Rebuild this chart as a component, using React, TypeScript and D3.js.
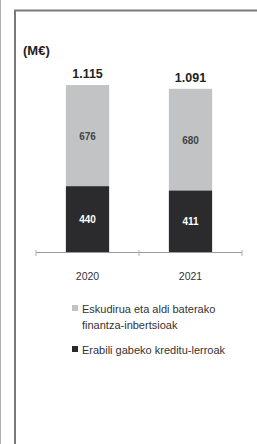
import React, { useRef, useEffect } from 'react';
import * as d3 from 'd3';

const years = ['2020', '2021'];
const cash = [676, 680];
const creditLines = [440, 411];
const totals = ['1.115', '1.091'];
const legendItems = [
  { lines: ['Eskudirua eta aldi baterako', 'finantza-inbertsioak'], color: '#c1c3c5' },
  { lines: ['Erabili gabeko kreditu-lerroak'], color: '#2b2b2d' },
];

const App = () => {
  const ref = useRef<SVGSVGElement>(null);

  useEffect(() => {
    const svg = d3.select(ref.current);
    svg.selectAll('*').remove();
    const font = 'Liberation Sans, Arial, sans-serif';

    // frame
    svg.append('line').attr('x1', 0.5).attr('x2', 0.5).attr('y1', 0).attr('y2', 444)
      .attr('stroke', '#b0b0b0').attr('stroke-width', 1);
    svg.append('line').attr('x1', 15).attr('x2', 15).attr('y1', 10).attr('y2', 444)
      .attr('stroke', '#7a7a7a').attr('stroke-width', 2);
    svg.append('line').attr('x1', 14).attr('x2', 257).attr('y1', 10.5).attr('y2', 10.5)
      .attr('stroke', '#7a7a7a').attr('stroke-width', 2);

    const x = d3.scaleBand().domain(years).range([36, 242]).paddingInner(0.58).paddingOuter(0.29);
    const y = d3.scaleLinear().domain([0, 1200]).range([252, 72.5]);

    const g = svg.append('g');
    years.forEach((yr, i) => {
      const x0 = x(yr)!;
      const bw = x.bandwidth();
      const dTop = y(creditLines[i]);
      const tTop = y(creditLines[i] + cash[i]);
      g.append('rect').attr('x', x0).attr('width', bw).attr('y', tTop).attr('height', dTop - tTop)
        .attr('fill', '#c1c3c5');
      g.append('rect').attr('x', x0).attr('width', bw).attr('y', dTop).attr('height', y(0) - dTop)
        .attr('fill', '#2b2b2d');
      const cx = x0 + bw / 2;
      g.append('text').attr('x', cx).attr('y', (tTop + dTop) / 2 + 4).attr('text-anchor', 'middle')
        .attr('font-family', font).attr('font-size', 10).attr('font-weight', 'bold')
        .attr('fill', '#444').text(cash[i]);
      g.append('text').attr('x', cx).attr('y', (dTop + y(0)) / 2 + 4).attr('text-anchor', 'middle')
        .attr('font-family', font).attr('font-size', 10).attr('font-weight', 'bold')
        .attr('fill', '#fff').text(creditLines[i]);
      g.append('text').attr('x', cx).attr('y', tTop - 7).attr('text-anchor', 'middle')
        .attr('font-family', font).attr('font-size', 12.5).attr('font-weight', 'bold')
        .attr('fill', '#222').text(totals[i]);
      g.append('text').attr('x', cx).attr('y', 280).attr('text-anchor', 'middle')
        .attr('font-family', font).attr('font-size', 10.5)
        .attr('fill', '#333').text(yr);
    });

    // axis
    const ax = svg.append('g');
    ax.append('line').attr('x1', 36).attr('x2', 242).attr('y1', 252.5).attr('y2', 252.5)
      .attr('stroke', '#9a9a9a').attr('stroke-width', 1);
    const tickPos = [...years.map((yr) => x(yr)! - (x.step() - x.bandwidth()) / 2), 242];
    tickPos.forEach((t) => {
      ax.append('line').attr('x1', t).attr('x2', t).attr('y1', 250).attr('y2', 256)
        .attr('stroke', '#b0b0b0').attr('stroke-width', 1);
    });

    svg.append('text').attr('x', 23).attr('y', 55)
      .attr('font-family', font).attr('font-size', 13).attr('font-weight', 'bold')
      .attr('fill', '#222').text('(M€)');

    // legend
    let ly = 309;
    legendItems.forEach((item) => {
      svg.append('rect').attr('x', 72).attr('y', ly - 4).attr('width', 6).attr('height', 6)
        .attr('fill', item.color);
      item.lines.forEach((ln, j) => {
        svg.append('text').attr('x', 82).attr('y', ly + 4 + j * 16)
          .attr('font-family', font).attr('font-size', 11).attr('fill', '#333')
          .text(ln);
      });
      ly += item.lines.length * 16 + 9;
    });
  }, []);

  return (
    <div style={{ position: 'fixed', left: 0, top: 0 }}>
      <svg ref={ref} width={257} height={444} style={{ display: 'block', background: '#fff' }} />
    </div>
  );
};

export default App;
